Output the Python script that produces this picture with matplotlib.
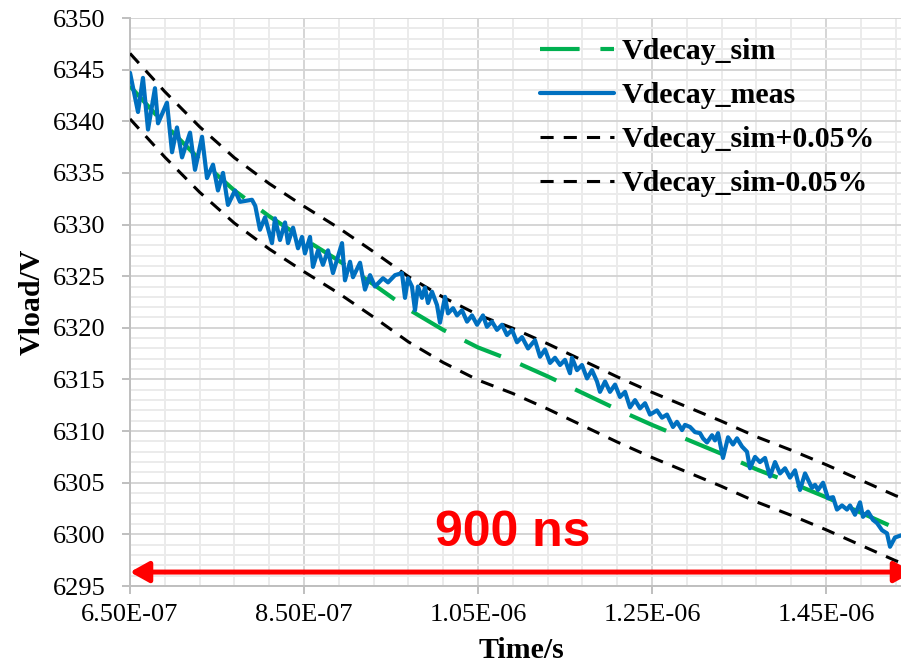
import matplotlib
matplotlib.use("Agg")
import matplotlib.pyplot as plt
import numpy as np
from matplotlib.ticker import FixedLocator

# ---------------- data ----------------
# simulated decay (time in ns, voltage in V)
sim_t_ns = [650, 690, 730, 770, 810, 850, 890, 930, 970, 1010, 1050, 1090,
            1130, 1170, 1210, 1250, 1290, 1330, 1370, 1410, 1450, 1490, 1530, 1550]
sim_v = [6343.4, 6339.7, 6336.3, 6333.3, 6330.8, 6328.6, 6326.5, 6324.2, 6321.8,
         6319.8, 6318.1, 6316.8, 6315.3, 6313.7, 6312.1, 6310.6, 6309.2, 6307.8,
         6306.3, 6305.0, 6303.6, 6302.1, 6300.6, 6300.0]
tolerance = 0.0005  # +/- 0.05 %

# measured decay (time in ns, voltage in V)
meas_t_ns = [650, 659.2, 664.9, 670.7, 678.7, 682.2, 692.5, 698.3, 704.0, 709.8,
             719.0, 724.7, 732.8, 738.5, 745.4, 751.1, 756.9, 762.6, 770.7, 776.4,
             790.2, 794.0, 799.4, 805.2, 813.2, 816.7, 822.4, 828.2, 831.6, 837.4,
             843.1, 847.7, 851.1, 856.9, 860.3, 866.1, 871.8, 877.6, 883.3, 893.7,
             897.1, 902.9, 906.3, 914.4, 920.1, 925.9, 931.6, 940.8, 946.6, 954.6,
             962.6, 966.1, 969.5, 974.1, 977.6, 981.0, 985.6, 989.1, 992.5, 997.1,
             1002.9, 1006.3, 1012.1, 1015.5, 1021.3, 1025.9, 1031.6, 1037.4, 1043.1, 1048.9,
             1055.7, 1060.3, 1066.1, 1071.8, 1077.6, 1083.3, 1089.1, 1094.8, 1100.6, 1107.5,
             1115.5, 1121.3, 1127.0, 1132.8, 1138.5, 1144.3, 1150.0, 1155.7, 1158.0, 1163.8,
             1169.5, 1175.3, 1181.0, 1186.8, 1190.2, 1196.0, 1201.7, 1207.5, 1213.2, 1219.0,
             1224.7, 1230.5, 1236.2, 1242.0, 1247.7, 1255.7, 1261.5, 1267.2, 1274.1, 1278.7,
             1284.5, 1287.9, 1293.7, 1299.4, 1305.2, 1308.6, 1313.2, 1319.0, 1322.4, 1325.9,
             1331.6, 1337.4, 1343.1, 1347.7, 1353.5, 1359.2, 1362.6, 1368.4, 1374.1, 1379.9,
             1385.6, 1391.4, 1397.1, 1402.9, 1408.6, 1414.4, 1420.1, 1425.9, 1433.9, 1437.4,
             1440.8, 1446.6, 1452.3, 1458.1, 1462.6, 1468.4, 1474.1, 1477.6, 1483.3, 1489.1,
             1492.5, 1498.3, 1504.0, 1508.6, 1514.4, 1520.1, 1523.6, 1529.3, 1536.2]
meas_v = [6344.7, 6340.9, 6344.2, 6339.2, 6343.2, 6339.8, 6341.8, 6337.0, 6339.4, 6336.5,
          6338.9, 6335.3, 6338.5, 6334.5, 6335.8, 6333.3, 6335.0, 6331.9, 6333.3, 6332.2,
          6332.4, 6331.8, 6329.5, 6330.7, 6328.2, 6330.6, 6328.5, 6330.2, 6328.2, 6329.7,
          6327.7, 6328.8, 6327.2, 6328.8, 6325.9, 6327.5, 6326.1, 6327.5, 6325.3, 6328.2,
          6324.6, 6326.4, 6324.9, 6326.3, 6323.7, 6325.1, 6324.0, 6324.8, 6324.4, 6325.1,
          6325.3, 6322.9, 6324.8, 6324.0, 6321.7, 6324.0, 6322.9, 6323.9, 6322.4, 6323.5,
          6322.2, 6320.5, 6323.0, 6321.4, 6321.9, 6321.2, 6321.7, 6320.6, 6321.2, 6320.3,
          6321.2, 6320.1, 6320.6, 6319.8, 6320.3, 6319.3, 6319.8, 6318.6, 6319.1, 6318.0,
          6318.8, 6317.2, 6317.9, 6316.6, 6317.1, 6316.4, 6316.9, 6315.6, 6317.1, 6315.9,
          6316.4, 6315.1, 6315.9, 6314.8, 6313.8, 6314.8, 6313.8, 6314.5, 6313.3, 6313.8,
          6312.3, 6313.0, 6312.2, 6312.7, 6311.6, 6312.0, 6311.3, 6311.6, 6310.4, 6310.9,
          6310.1, 6310.6, 6310.4, 6309.9, 6309.8, 6309.3, 6308.9, 6309.6, 6309.1, 6309.8,
          6307.4, 6309.4, 6308.7, 6309.3, 6308.5, 6308.0, 6306.4, 6307.5, 6307.0, 6307.4,
          6305.6, 6307.0, 6305.9, 6306.4, 6305.5, 6306.2, 6304.3, 6305.9, 6304.5, 6304.8,
          6304.3, 6305.0, 6303.5, 6303.6, 6302.4, 6302.8, 6302.4, 6302.8, 6301.9, 6303.1,
          6301.7, 6302.2, 6301.4, 6301.1, 6300.4, 6300.1, 6298.8, 6299.7, 6299.9]

x_tick_ns = [650, 850, 1050, 1250, 1450]
x_tick_labels = ["6.50E-07", "8.50E-07", "1.05E-06", "1.25E-06", "1.45E-06"]
y_ticks = [6295, 6300, 6305, 6310, 6315, 6320, 6325, 6330, 6335, 6340, 6345, 6350]
x_range_ns = [650, 1550]
y_range = [6295, 6350]
span_label = "900 ns"

# ---------------- figure ----------------
serif = "Liberation Serif"
W, H = 901, 671
fig = plt.figure(figsize=(W / 100, H / 100), dpi=100)
ax = fig.add_axes([130 / W, 85 / H, 783 / W, 568 / H])

sim_t = np.array(sim_t_ns) * 1e-9
meas_t = np.array(meas_t_ns) * 1e-9
sim_arr = np.array(sim_v)
upper = sim_arr * (1 + tolerance)
lower = sim_arr * (1 - tolerance)

green = "#00B050"
blue = "#0070C0"

l_sim, = ax.plot(sim_t, sim_arr, color=green, lw=3.0, dashes=(9.5, 5.0),
                 label="Vdecay_sim", zorder=3)
l_meas, = ax.plot(meas_t, meas_v, color=blue, lw=3.0, label="Vdecay_meas",
                  zorder=4, solid_joinstyle="round", solid_capstyle="round")
l_up, = ax.plot(sim_t, upper, color="black", lw=2.2, dashes=(4.3, 3.3),
                label="Vdecay_sim+0.05%", zorder=3)
l_lo, = ax.plot(sim_t, lower, color="black", lw=2.2, dashes=(4.3, 3.3),
                label="Vdecay_sim-0.05%", zorder=3)

ax.set_xlim(x_range_ns[0] * 1e-9, x_range_ns[1] * 1e-9)
ax.set_ylim(*y_range)

ax.xaxis.set_major_locator(FixedLocator([v * 1e-9 for v in x_tick_ns]))
ax.set_xticklabels(x_tick_labels)
ax.xaxis.set_minor_locator(FixedLocator(np.arange(650, 1551, 40) * 1e-9))
ax.yaxis.set_major_locator(FixedLocator(y_ticks))
ax.yaxis.set_minor_locator(FixedLocator(np.arange(6295, 6351, 1)))

ax.set_axisbelow(True)
ax.grid(which="minor", color="#EBEBEB", lw=1.4)
ax.grid(which="major", color="#D5D5D5", lw=1.4)

for s in ["top", "right"]:
    ax.spines[s].set_visible(False)
for s in ["left", "bottom"]:
    ax.spines[s].set_color("#BFBFBF")
    ax.spines[s].set_linewidth(1.4)

ax.tick_params(which="minor", length=0)
ax.tick_params(which="major", direction="out", length=5.8, width=1.4,
               color="#BFBFBF", labelsize=19)
ax.tick_params(axis="y", pad=12)
ax.tick_params(axis="x", pad=7)
for lab in ax.get_xticklabels() + ax.get_yticklabels():
    lab.set_fontfamily(serif)

ax.set_xlabel("Time/s", fontsize=21.5, fontweight="bold", family=serif, labelpad=8)
ax.set_ylabel("Vload/V", fontsize=21.5, fontweight="bold", family=serif, labelpad=5)

# 900 ns span arrow
arrow_y = 6296.35
ax.annotate("", xy=(x_range_ns[1] * 1e-9, arrow_y), xytext=(x_range_ns[0] * 1e-9, arrow_y),
            arrowprops=dict(arrowstyle="<|-|>,head_length=0.45,head_width=0.25",
                            color="#FF0000", lw=3.6, mutation_scale=25,
                            shrinkA=0, shrinkB=0),
            annotation_clip=False, zorder=6)
ax.text(1090e-9, 6300.1, span_label, color="#FF0000", fontsize=36, fontweight="bold",
        family="Liberation Sans", ha="center", va="center", zorder=6)

leg = ax.legend(handles=[l_sim, l_meas, l_up, l_lo], loc="upper left",
                bbox_to_anchor=(540 / W, 1 - 38 / H), bbox_transform=fig.transFigure,
                frameon=False, borderpad=0, borderaxespad=0, handlelength=2.47,
                handletextpad=0.27, labelspacing=0.57,
                prop={"family": serif, "weight": "bold", "size": 21.5})

fig.savefig("out.png", dpi=100)
